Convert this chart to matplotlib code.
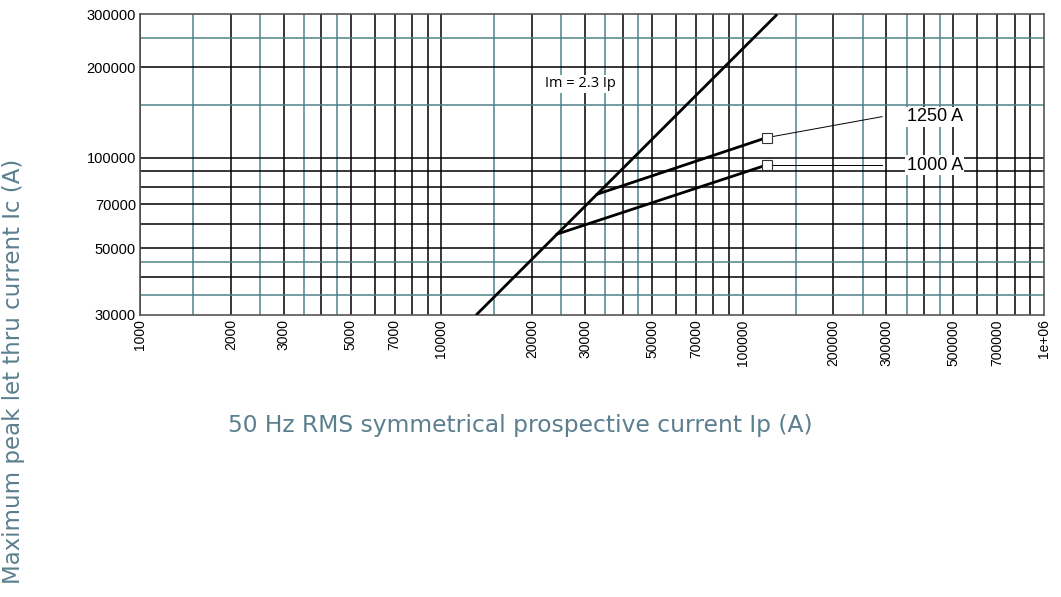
import numpy as np
import matplotlib
matplotlib.use("Agg")
import matplotlib.pyplot as plt
from matplotlib.ticker import FixedLocator, NullFormatter

# curve data
im_x = [13040, 130000]          # Im = 2.3 Ip
im_factor = 2.3
c1000_x = [24200, 120000]
c1000_y = [55700, 94500]
c1250_x = [32900, 120000]
c1250_y = [75600, 116500]
lead1000 = ([120000, 290000], [94500, 94500])
lead1250 = ([120000, 290000], [116500, 136800])

xticks = [1000, 2000, 3000, 5000, 7000, 10000, 20000, 30000, 50000, 70000,
          100000, 200000, 300000, 500000, 700000, 1000000]
xticklabels = ["1000", "2000", "3000", "5000", "7000", "10000", "20000", "30000",
               "50000", "70000", "100000", "200000", "300000", "500000",
               "700000", "1e+06"]
yticks = [30000, 50000, 70000, 100000, 200000, 300000]
yticklabels = ["30000", "50000", "70000", "100000", "200000", "300000"]

black_grid_x = [n * 10 ** k for k in (3, 4, 5) for n in range(1, 10)]
teal_grid_x = [n * 10 ** k for k in (3, 4, 5) for n in (1.5, 2.5, 3.5, 4.5)]
black_grid_y = [40000, 50000, 60000, 70000, 80000, 90000, 100000, 200000]
teal_grid_y = [35000, 45000, 150000, 250000]

teal = "#4f8289"
label_col = "#5b7f8e"

fig = plt.figure(figsize=(10.61, 5.97), dpi=100)
ax = fig.add_axes([0.132, 0.4724, 0.852, 0.5041])
ax.set_xscale("log")
ax.set_yscale("log")
ax.set_xlim(1000, 1e6)
ax.set_ylim(30000, 300000)

for gx in black_grid_x:
    ax.axvline(gx, color="black", lw=1.1, zorder=1)
for gx in teal_grid_x:
    ax.axvline(gx, color=teal, lw=1.1, zorder=1)
for gy in black_grid_y:
    ax.axhline(gy, color="black", lw=1.1, zorder=1)
for gy in teal_grid_y:
    ax.axhline(gy, color=teal, lw=1.1, zorder=1)

ax.xaxis.set_major_locator(FixedLocator(xticks))
ax.xaxis.set_minor_locator(FixedLocator([]))
ax.xaxis.set_minor_formatter(NullFormatter())
ax.set_xticklabels(xticklabels, rotation=90, fontsize=10, family="Liberation Sans")
ax.yaxis.set_major_locator(FixedLocator(yticks))
ax.yaxis.set_minor_locator(FixedLocator([]))
ax.yaxis.set_minor_formatter(NullFormatter())
ax.set_yticklabels(yticklabels, fontsize=10.5, family="Liberation Sans")
ax.tick_params(length=0, pad=3)
for sp in ax.spines.values():
    sp.set_color("#555555")
    sp.set_linewidth(1.2)

ax.plot(im_x, [v * im_factor for v in im_x], color="black", lw=2, zorder=3,
        solid_capstyle="butt")
ax.plot(c1000_x, c1000_y, color="black", lw=2, zorder=3)
ax.plot(c1250_x, c1250_y, color="black", lw=2, zorder=3)
ax.plot(lead1000[0], lead1000[1], color="black", lw=0.7, zorder=3)
ax.plot(lead1250[0], lead1250[1], color="black", lw=0.7, zorder=3)
ax.plot([c1000_x[-1]], [c1000_y[-1]], marker="s", ms=7, mfc="white",
        mec="#333333", mew=0.8, zorder=4)
ax.plot([c1250_x[-1]], [c1250_y[-1]], marker="s", ms=7, mfc="white",
        mec="#333333", mew=0.8, zorder=4)

box = dict(facecolor="white", edgecolor="none", pad=1)
ax.text(350000, 136800, "1250 A", fontsize=13, family="Liberation Sans",
        va="center", ha="left", bbox=box, zorder=5)
ax.text(350000, 94500, "1000 A", fontsize=13, family="Liberation Sans",
        va="center", ha="left", bbox=box, zorder=5)
ax.text(22000, 176000, "Im = 2.3 Ip", fontsize=10.5, family="Open Sans",
        va="center", ha="left", bbox=box, zorder=5)

fig.text(0.49, 0.287, "50 Hz RMS symmetrical prospective current Ip (A)",
         fontsize=16.8, family="DejaVu Sans", color=label_col, ha="center",
         va="center")
fig.text(0.013, 0.378, "Maximum peak let thru current Ic (A)",
         fontsize=16.5, family="DejaVu Sans", color=label_col, ha="center",
         va="center", rotation=90)

fig.savefig("out.png", dpi=100)
